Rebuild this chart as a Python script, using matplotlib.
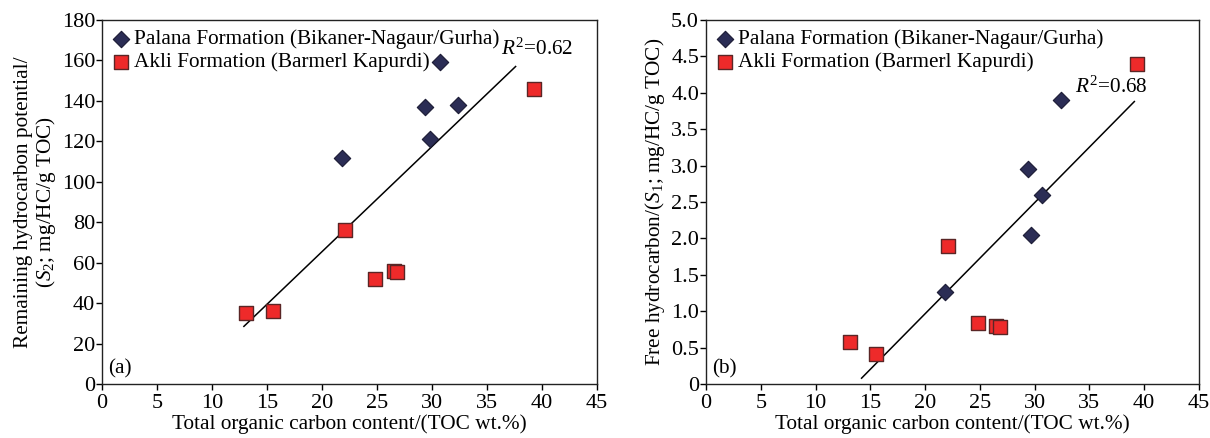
import matplotlib
matplotlib.use("Agg")
import matplotlib.pyplot as plt
import numpy as np

plt.rcParams['font.family'] = ['Liberation Serif', 'DejaVu Serif']
plt.rcParams['mathtext.fontset'] = 'custom'
plt.rcParams['mathtext.rm'] = 'Liberation Serif'
plt.rcParams['mathtext.it'] = 'Liberation Serif:italic'

# Panel (a): S2 vs TOC
palana_toc_a = [21.8, 29.4, 29.8, 32.4, 30.7]
palana_s2 = [112, 137, 121, 138, 159]
akli_toc_a = [13.1, 15.5, 22.1, 24.8, 26.5, 26.8, 39.3]
akli_s2 = [35, 36, 76, 52, 56, 55.5, 146]
trend_a_x = [12.9, 37.6]
trend_a_y = [28.5, 157]

# Panel (b): S1 vs TOC
palana_toc_b = [21.8, 29.4, 29.7, 30.7, 32.4]
palana_s1 = [1.27, 2.96, 2.04, 2.60, 3.90]
akli_toc_b = [13.1, 15.5, 22.1, 24.8, 26.5, 26.8, 39.3]
akli_s1 = [0.58, 0.41, 1.89, 0.84, 0.79, 0.78, 4.40]
trend_b_x = [14.2, 39.1]
trend_b_y = [0.08, 3.88]

xticks = [0, 5, 10, 15, 20, 25, 30, 35, 40, 45]
yticks_a = [0, 20, 40, 60, 80, 100, 120, 140, 160, 180]
yticks_b = [0, 0.5, 1.0, 1.5, 2.0, 2.5, 3.0, 3.5, 4.0, 4.5, 5.0]
yticklabels_b = ['0', '0.5', '1.0', '1.5', '2.0', '2.5', '3.0', '3.5', '4.0', '4.5', '5.0']

navy = '#2b2d55'
red = '#ee2a2a'
red_edge = '#5a2626'
fs_tick = 16
fs = 15.3

fig = plt.figure(figsize=(12.1, 4.38), dpi=100)
ax1 = fig.add_axes([102/1210, 1 - 384/438, 495/1210, 364/438])
ax2 = fig.add_axes([706/1210, 1 - 384/438, 493/1210, 364/438])

def style(ax):
    ax.set_xlim(0, 45)
    ax.set_xticks(xticks)
    ax.tick_params(direction='out', labelsize=fs_tick, length=4, width=1, pad=1)
    ax.tick_params(axis='x', pad=3)
    for s in ax.spines.values():
        s.set_linewidth(1.0)
        s.set_color('#222222')
    ax.set_xlabel('Total organic carbon content/(TOC wt.%)', fontsize=fs, labelpad=1)

def legend(ax):
    ax.legend(loc='upper left', frameon=False, fontsize=fs, handletextpad=0.15, handlelength=0.9,
              borderaxespad=0.1, labelspacing=0.15, borderpad=0.35, scatterpoints=1)

# Panel a
ax1.plot(trend_a_x, trend_a_y, color='black', lw=1.1)
ax1.scatter(palana_toc_a, palana_s2, marker='D', s=70, color=navy, edgecolor='#1a1a33', lw=0.8, zorder=3,
            label='Palana Formation (Bikaner-Nagaur/Gurha)')
ax1.scatter(akli_toc_a, akli_s2, marker='s', s=95, color=red, edgecolor=red_edge, lw=1.0, zorder=3,
            label='Akli Formation (Barmerl Kapurdi)')
ax1.set_ylim(0, 180)
ax1.set_yticks(yticks_a)
style(ax1)
ax1.set_ylabel('Remaining hydrocarbon potential/\n($S_2$; mg/HC/g TOC)', fontsize=fs, labelpad=3, linespacing=1.05)
ax1.text(36.3, 163, '$R^2$=0.62', fontsize=fs)
ax1.text(0.012, 0.03, '(a)', transform=ax1.transAxes, fontsize=fs)
legend(ax1)

# Panel b
ax2.plot(trend_b_x, trend_b_y, color='black', lw=1.1)
ax2.scatter(palana_toc_b, palana_s1, marker='D', s=70, color=navy, edgecolor='#1a1a33', lw=0.8, zorder=3,
            label='Palana Formation (Bikaner-Nagaur/Gurha)')
ax2.scatter(akli_toc_b, akli_s1, marker='s', s=95, color=red, edgecolor=red_edge, lw=1.0, zorder=3,
            label='Akli Formation (Barmerl Kapurdi)')
ax2.set_ylim(0, 5.0)
ax2.set_yticks(yticks_b)
ax2.set_yticklabels(yticklabels_b)
style(ax2)
ax2.set_ylabel('Free hydrocarbon/($S_1$; mg/HC/g TOC)', fontsize=fs, labelpad=3)
ax2.text(33.7, 4.0, '$R^2$=0.68', fontsize=fs)
ax2.text(0.012, 0.03, '(b)', transform=ax2.transAxes, fontsize=fs)
legend(ax2)

fig.savefig('out.png', dpi=100)
